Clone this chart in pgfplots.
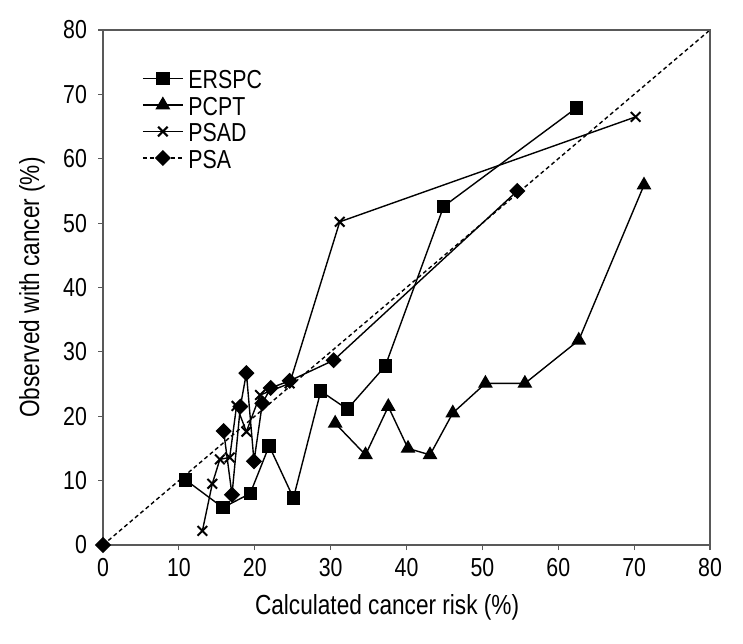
\documentclass[border=0pt]{standalone}
\usepackage{fontspec}
\setmainfont{Liberation Sans}[FakeStretch=0.82]
\usepackage{pgfplots}
\pgfplotsset{compat=1.18}

\begin{document}
\begin{tikzpicture}
\begin{axis}[
    scale only axis,
    width=303.5pt, height=257.5pt,
    xmin=0, xmax=80, ymin=0, ymax=80,
    xtick={0,10,...,80}, ytick={0,10,...,80},
    tick align=outside, tick pos=left,
    major tick length=2.5pt,
    axis line style={black!65, line width=0.6pt},
    every tick/.style={black!65, line width=0.6pt},
    /pgf/number format/assume math mode=true,
    tick label style={font=\fontsize{13}{15}\selectfont},
    yticklabel style={xshift=-2pt},
    xticklabel style={yshift=-0.5pt},
    every axis x label/.style={at={(rel axis cs:0.468,0)}, anchor=center, yshift=-31pt},
    every axis y label/.style={at={(rel axis cs:0,0.5)}, xshift=-35.5pt, anchor=center, rotate=90},
    label style={font=\fontsize{13.8}{16}\selectfont},
    xlabel={Calculated cancer risk (\%)},
    ylabel={Observed with cancer (\%)},
    clip=false,
    legend style={at={(rel axis cs:0.064,0.926)}, anchor=north west, draw=none, fill=none,
        font=\fontsize{13}{15}\selectfont, inner sep=0pt, row sep=3.25pt, column sep=2.5pt,
        nodes={inner sep=0pt, text height=10pt, text depth=0pt}},
    legend cell align=left,
    legend image code/.code={\draw[mark repeat=2,mark phase=2] plot coordinates {(0cm,0cm) (0.35cm,0cm) (0.7cm,0cm)};},
    every axis plot/.append style={line width=0.7pt, black},
]
\addplot[mark=square*, mark size=3pt] coordinates {
    (10.9,10.1) (15.8,5.8) (19.4,8.0) (21.9,15.4) (25.1,7.3) (28.7,23.9)
    (32.2,21.1) (37.2,27.8) (44.9,52.6) (62.4,67.9)};
\addplot[mark=triangle*, mark size=3.6pt] coordinates {
    (30.6,18.9) (34.6,14.0) (37.6,21.5) (40.2,15.0) (43.1,14.0) (46.1,20.5)
    (50.4,25.1) (55.6,25.1) (62.7,31.8) (71.3,55.9)};
\addplot[mark=x, mark size=3.4pt, mark options={line width=1pt}] coordinates {
    (13.1,2.2) (14.4,9.5) (15.4,13.3) (16.7,13.6) (17.6,21.6) (18.9,17.6)
    (20.7,23.3) (24.6,25.1) (31.2,50.2) (70.2,66.5)};
\addlegendimage{black, line width=0.7pt, dashed, dash pattern=on 2pt off 1.5pt, mark=square*, mark size=2.5pt, mark options={solid, rotate=45}}
\addplot[dashed, dash pattern=on 2pt off 1.5pt, line width=0.7pt, forget plot] coordinates {(0,0) (80,80)};
\addplot[mark=square*, mark size=2.5pt, mark options={rotate=45}, only marks, forget plot] coordinates {(0,0)};
\addplot[mark=square*, mark size=2.5pt, mark options={rotate=45}, forget plot] coordinates {
    (15.9,17.7) (17.0,7.8) (18.1,21.5) (18.9,26.7) (19.9,13.0) (21.0,22.0)
    (22.1,24.4) (24.6,25.5) (30.4,28.7) (54.6,55.0)};
\draw[black!65, line width=0.6pt] (rel axis cs:0,1) -- (rel axis cs:1,1) -- (rel axis cs:1,0);
\legend{ERSPC,PCPT,PSAD,PSA}
\coordinate (sw) at (rel axis cs:0,0);
\coordinate (ne) at (rel axis cs:1,1);
\end{axis}
\pgfresetboundingbox
\path[use as bounding box] ([shift={(-51.5pt,-49pt)}]sw) rectangle ([shift={(16.5pt,15pt)}]ne);
\end{tikzpicture}
\end{document}
